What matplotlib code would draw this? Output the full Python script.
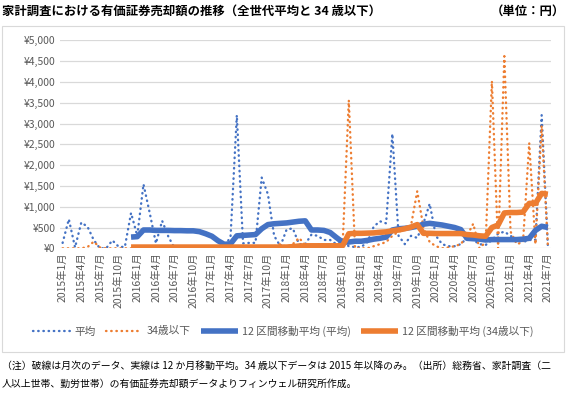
import numpy as np
import matplotlib
matplotlib.use("Agg")
import matplotlib.pyplot as plt
from matplotlib.patches import Rectangle

plt.rcParams['font.family'] = ['Noto Sans CJK JP', 'DejaVu Sans']

# monthly labels, 2015年1月 .. 2021年7月
months = [f"{y}年{m}月" for y in range(2015, 2022) for m in range(1, 13)][:79]

# 全世代平均 (monthly, yen)
avg_all = [130, 700, 20, 620, 520, 200, 0, 0, 190, 40, 30, 850,
           300, 1540, 850, 120, 660, 280, 0, 0, 30, 10, 0, 0,
           0, 0, 0, 300, 3200, 120, 130, 130, 1700, 1300, 300, 50,
           450, 480, 100, 100, 330, 300, 200, 200, 100, 150, 50, 30,
           30, 150, 520, 650, 600, 2750, 300, 100, 300, 250, 600, 1070,
           300, 100, 50, 50, 100, 250, 200, 100, 80, 200, 350, 400,
           300, 200, 150, 200, 200, 3200, 50]

# 34歳以下 (monthly, yen)
young = [0, 0, 0, 0, 30, 160, 20, 0, 0, 0, 0, 0,
         30, 40, 20, 0, 50, 40, 20, 0, 30, 20, 0, 0,
         0, 30, 20, 40, 20, 40, 50, 30, 0, 0, 50, 100,
         30, 100, 250, 80, 50, 100, 60, 100, 80, 50, 3560, 0,
         0, 0, 50, 100, 150, 300, 400, 450, 550, 1370, 500, 150,
         50, 0, 20, 50, 100, 300, 590, 0, 150, 4020, 0, 4620,
         400, 100, 150, 2530, 100, 2950, 50]

# 12区間移動平均 as drawn in the source chart
nan = np.nan
ma_all = [nan] * 11 + [270, 280, 440, 440, 430, 430, 430, 425, 425, 420, 420,
                       400, 350, 290, 180, 95, 110, 300, 310, 320, 330, 470,
                       570, 590, 600, 610, 630, 650, 660, 440, 440, 430, 380,
                       260, 150, 150, 170, 170, 190, 220, 240, 270, 440, 470,
                       480, 500, 530, 580, 600, 580, 560, 530, 500, 450, 240,
                       230, 220, 200, 210, 210, 210, 210, 210, 220, 240, 430,
                       530, 500]
ma_young = [nan] * 11 + [30, 30, 30, 30, 30, 30, 30, 30, 30, 30, 30,
                         30, 30, 30, 30, 30, 30, 30, 30, 30, 30, 30,
                         30, 30, 30, 30, 40, 55, 60, 60, 60, 60, 60,
                         60, 60, 350, 360, 360, 365, 370, 385, 395, 420, 440,
                         470, 510, 570, 360, 360, 355, 355, 355, 355, 355, 330,
                         320, 300, 290, 500, 560, 850, 860, 860, 870, 1080, 1080,
                         1320, 1300]

BLUE = '#4472C4'
ORANGE = '#ED7D31'
GRAY = '#595959'

fig = plt.figure(figsize=(5.67, 3.94), dpi=100)
W, H = 567, 394

# chart frame
fig.patches.append(Rectangle((2 / W, 1 - 352 / H), 562 / W, 326 / H,
                             transform=fig.transFigure, fill=False,
                             edgecolor='#d9d9d9', lw=0.8))

ax = fig.add_axes([59.5 / W, 1 - 248.3 / H, 491.5 / W, 208 / H])
x = np.arange(len(months))

dot = dict(lw=1.7, linestyle=(0, (0.2, 2.0)), dash_capstyle='round')
ax.plot(x, avg_all, color=BLUE, label='平均', **dot)
ax.plot(x, young, color=ORANGE, label='34歳以下', **dot)
ax.plot(x, ma_all, color=BLUE, lw=4, solid_capstyle='butt', label='12 区間移動平均 (平均)')
ax.plot(x, ma_young, color=ORANGE, lw=4, solid_capstyle='butt', label='12 区間移動平均 (34歳以下)')

ax.set_xlim(-0.5, len(months) - 0.5)
ax.set_ylim(0, 5000)
yt = np.arange(0, 5001, 500)
ax.set_yticks(yt)
ax.set_yticklabels([f"¥{v:,}" for v in yt], color=GRAY, fontsize=7.5)
ax.set_xticks(x[::3])
ax.set_xticklabels(months[::3], rotation=90, color=GRAY, fontsize=7.5)
ax.tick_params(length=0, pad=3)
ax.grid(axis='y', color='#d9d9d9', lw=0.9)
ax.set_axisbelow(True)
for s in ax.spines.values():
    s.set_visible(False)

ax.legend(loc='center', bbox_to_anchor=(0.5, 1 - 331 / H), bbox_transform=fig.transFigure,
          ncol=4, frameon=False, fontsize=7.7, handlelength=3.4, columnspacing=1.0,
          handletextpad=0.4, labelcolor=GRAY)

fig.text(2 / W, 1 - 11 / H, '家計調査における有価証券売却額の推移（全世代平均と 34 歳以下）',
         fontsize=8.9, fontweight='bold', va='center', ha='left')
fig.text(565 / W, 1 - 11 / H, '（単位：円）', fontsize=8.9, fontweight='bold',
         va='center', ha='right')
fig.text(2 / W, 1 - 366 / H,
         '（注）破線は月次のデータ、実線は 12 か月移動平均。34 歳以下データは 2015 年以降のみ。（出所）総務省、家計調査（二',
         fontsize=7.1, va='center', ha='left')
fig.text(2 / W, 1 - 384 / H,
         '人以上世帯、勤労世帯）の有価証券売却額データよりフィンウェル研究所作成。',
         fontsize=7.1, va='center', ha='left')

fig.savefig('out.png', dpi=100)
